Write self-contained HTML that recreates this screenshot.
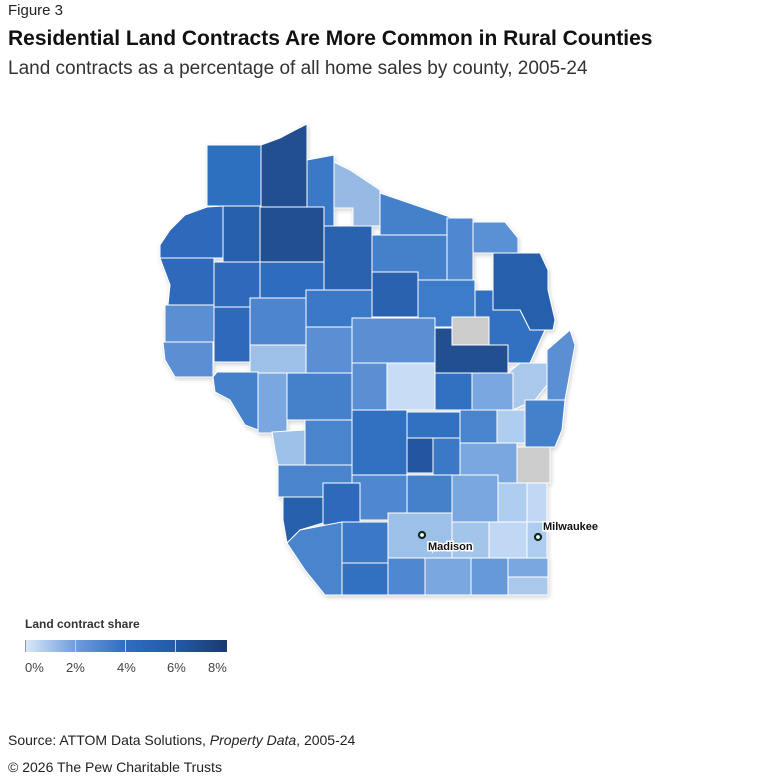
<!DOCTYPE html>
<html><head><meta charset="utf-8"><style>
body{margin:0;width:758px;height:777px;background:#fff;font-family:"Liberation Sans",sans-serif;color:#222;position:relative;overflow:hidden}
.t{position:absolute;left:8px;white-space:nowrap}
</style></head><body>
<div class="t" style="top:2px;font-size:15px">Figure 3</div>
<div class="t" style="top:27px;font-size:21px;font-weight:bold;color:#111">Residential Land Contracts Are More Common in Rural Counties</div>
<div class="t" style="top:58px;font-size:19px;color:#333">Land contracts as a percentage of all home sales by county, 2005-24</div>
<svg width="758" height="777" style="position:absolute;left:0;top:0">
<defs><filter id="sh" x="-5%" y="-5%" width="110%" height="110%"><feDropShadow dx="1" dy="2" stdDeviation="2" flood-color="#000" flood-opacity="0.18"/></filter></defs>
<g stroke="#fff" stroke-width="1" filter="url(#sh)">
<rect x="207" y="145" width="54" height="61" fill="#2f6fc0"/>
<polygon points="261,145 280,138 295,130 307,124 307,207 261,207" fill="#21508f"/>
<polygon points="307,160 334,155 334,226 307,226" fill="#3a78c6"/>
<polygon points="334,162 350,170 380,190 380,226 353,226 353,208 334,208" fill="#96bae4"/>
<polygon points="380,193 453,218 453,235 380,235" fill="#4580cb"/>
<rect x="447" y="218" width="26" height="72" fill="#4f88d0"/>
<polygon points="473,222 505,222 518,238 518,253 473,253" fill="#5a90d4"/>
<polygon points="493,253 540,253 548,270 548,290 555,320 553,330 530,330 520,310 493,310" fill="#2560ad"/>
<polygon points="170,230 185,215 207,207 223,206 223,258 160,258 160,245" fill="#2d69bb"/>
<rect x="223" y="206" width="37" height="56" fill="#2560ad"/>
<rect x="260" y="207" width="64" height="55" fill="#21508f"/>
<rect x="324" y="226" width="48" height="64" fill="#2a62b0"/>
<rect x="372" y="235" width="75" height="45" fill="#4580cb"/>
<polygon points="160,258 214,258 214,305 168,305 170,285" fill="#2d69bb"/>
<rect x="214" y="262" width="46" height="45" fill="#2d69bb"/>
<rect x="260" y="262" width="64" height="36" fill="#2d6cc0"/>
<rect x="372" y="272" width="46" height="45" fill="#2a62b0"/>
<rect x="418" y="280" width="57" height="47" fill="#3d7bc8"/>
<polygon points="475,290 493,290 493,310 520,310 530,330 545,330 530,363 475,363" fill="#3271c2"/>
<rect x="306" y="290" width="66" height="37" fill="#3a79c7"/>
<rect x="165" y="305" width="49" height="37" fill="#5a8fd3"/>
<rect x="214" y="307" width="36" height="55" fill="#2d69bb"/>
<rect x="250" y="298" width="56" height="47" fill="#4d86cf"/>
<rect x="352" y="318" width="83" height="45" fill="#5a8fd3"/>
<rect x="452" y="317" width="37" height="28" fill="#cccccc"/>
<polygon points="435,328 452,328 452,345 489,345 508,345 508,373 435,373" fill="#21508f"/>
<rect x="306" y="327" width="46" height="65" fill="#5a8fd3"/>
<polygon points="163,342 213,342 213,377 175,377 165,360" fill="#5a8fd3"/>
<rect x="250" y="345" width="56" height="28" fill="#9dc0e8"/>
<polygon points="213,377 217,372 258,372 258,430 245,425 230,400 215,392" fill="#4580cb"/>
<rect x="258" y="373" width="29" height="60" fill="#7aa7df"/>
<rect x="287" y="373" width="65" height="47" fill="#4580cb"/>
<rect x="352" y="363" width="35" height="47" fill="#5a8fd3"/>
<rect x="387" y="363" width="48" height="47" fill="#c8ddf5"/>
<rect x="435" y="373" width="37" height="37" fill="#3070c2"/>
<rect x="472" y="373" width="41" height="37" fill="#7aa7df"/>
<polygon points="508,373 520,363 547,363 547,385 535,400 513,410 513,373" fill="#a9c8ec"/>
<polygon points="547,350 570,330 575,345 565,400 547,400" fill="#5a8fd3"/>
<polygon points="525,400 565,400 562,430 555,447 525,447" fill="#4580cb"/>
<rect x="497" y="410" width="28" height="33" fill="#aecdef"/>
<rect x="460" y="410" width="37" height="37" fill="#4a84cd"/>
<rect x="407" y="412" width="53" height="26" fill="#3070c2"/>
<rect x="352" y="410" width="55" height="65" fill="#3271c2"/>
<rect x="407" y="438" width="26" height="35" fill="#2256a0"/>
<rect x="433" y="438" width="27" height="37" fill="#3a79c7"/>
<rect x="460" y="443" width="57" height="40" fill="#7aa7df"/>
<rect x="517" y="447" width="33" height="36" fill="#cccccc"/>
<polygon points="272,432 305,430 305,465 278,465 275,450" fill="#9dc0e8"/>
<rect x="305" y="420" width="47" height="45" fill="#4a84cd"/>
<rect x="278" y="465" width="74" height="32" fill="#4a84cd"/>
<rect x="352" y="475" width="55" height="45" fill="#4f88d0"/>
<rect x="407" y="475" width="45" height="38" fill="#4580cb"/>
<rect x="452" y="475" width="46" height="47" fill="#7aa7df"/>
<rect x="498" y="483" width="29" height="39" fill="#aecdef"/>
<rect x="527" y="483" width="20" height="39" fill="#c0d8f3"/>
<polygon points="283,497 323,497 323,523 300,530 287,543 283,520" fill="#2560ad"/>
<rect x="323" y="483" width="37" height="42" fill="#2d69bb"/>
<polygon points="287,543 300,530 342,522 342,595 325,595 305,570" fill="#4a84cd"/>
<rect x="342" y="522" width="46" height="41" fill="#3a79c7"/>
<rect x="388" y="513" width="64" height="45" fill="#9dc0e8"/>
<rect x="452" y="522" width="37" height="36" fill="#a4c5ea"/>
<rect x="489" y="522" width="38" height="36" fill="#c0d8f3"/>
<rect x="527" y="522" width="20" height="38" fill="#aecdef"/>
<rect x="342" y="563" width="46" height="32" fill="#3271c2"/>
<rect x="388" y="558" width="37" height="37" fill="#4f88d0"/>
<rect x="425" y="558" width="46" height="37" fill="#7aa7df"/>
<rect x="471" y="558" width="37" height="37" fill="#6699d8"/>
<rect x="508" y="558" width="40" height="19" fill="#7aa7df"/>
<rect x="508" y="577" width="40" height="18" fill="#a9c8ec"/>
</g>
<circle cx="422" cy="535" r="3" fill="#fff" stroke="#0d2a1e" stroke-width="2.2"/>
<circle cx="538" cy="537" r="3" fill="#fff" stroke="#0d2a1e" stroke-width="2.2"/>
<g font-size="11" font-weight="bold" fill="#111" stroke="#fff" stroke-width="3" paint-order="stroke">
<text x="428" y="550">Madison</text>
<text x="543" y="530">Milwaukee</text>
</g>
<text x="25" y="628" font-size="12" font-weight="bold" fill="#333">Land contract share</text>
<defs><linearGradient id="lg"><stop offset="0" stop-color="#dbe9f9"/><stop offset="0.25" stop-color="#6f9ddc"/><stop offset="0.5" stop-color="#2f6cc0"/><stop offset="0.75" stop-color="#235aa5"/><stop offset="1" stop-color="#1a3a72"/></linearGradient></defs>
<rect x="25" y="640" width="202" height="12" fill="url(#lg)"/>
<g stroke="#ccc" stroke-width="1"><line x1="25.5" y1="640" x2="25.5" y2="652" stroke="#999"/><line x1="75.5" y1="640" x2="75.5" y2="652"/><line x1="125.5" y1="640" x2="125.5" y2="652"/><line x1="175.5" y1="640" x2="175.5" y2="652"/></g>
<g font-size="13" fill="#444"><text x="25" y="672">0%</text><text x="66" y="672">2%</text><text x="117" y="672">4%</text><text x="167" y="672">6%</text><text x="208" y="672">8%</text></g>
</svg>
<div class="t" style="top:732px;font-size:14px">Source: ATTOM Data Solutions, <i>Property Data</i>, 2005-24</div>
<div class="t" style="top:759px;font-size:14px">© 2026 The Pew Charitable Trusts</div>
</body></html>
